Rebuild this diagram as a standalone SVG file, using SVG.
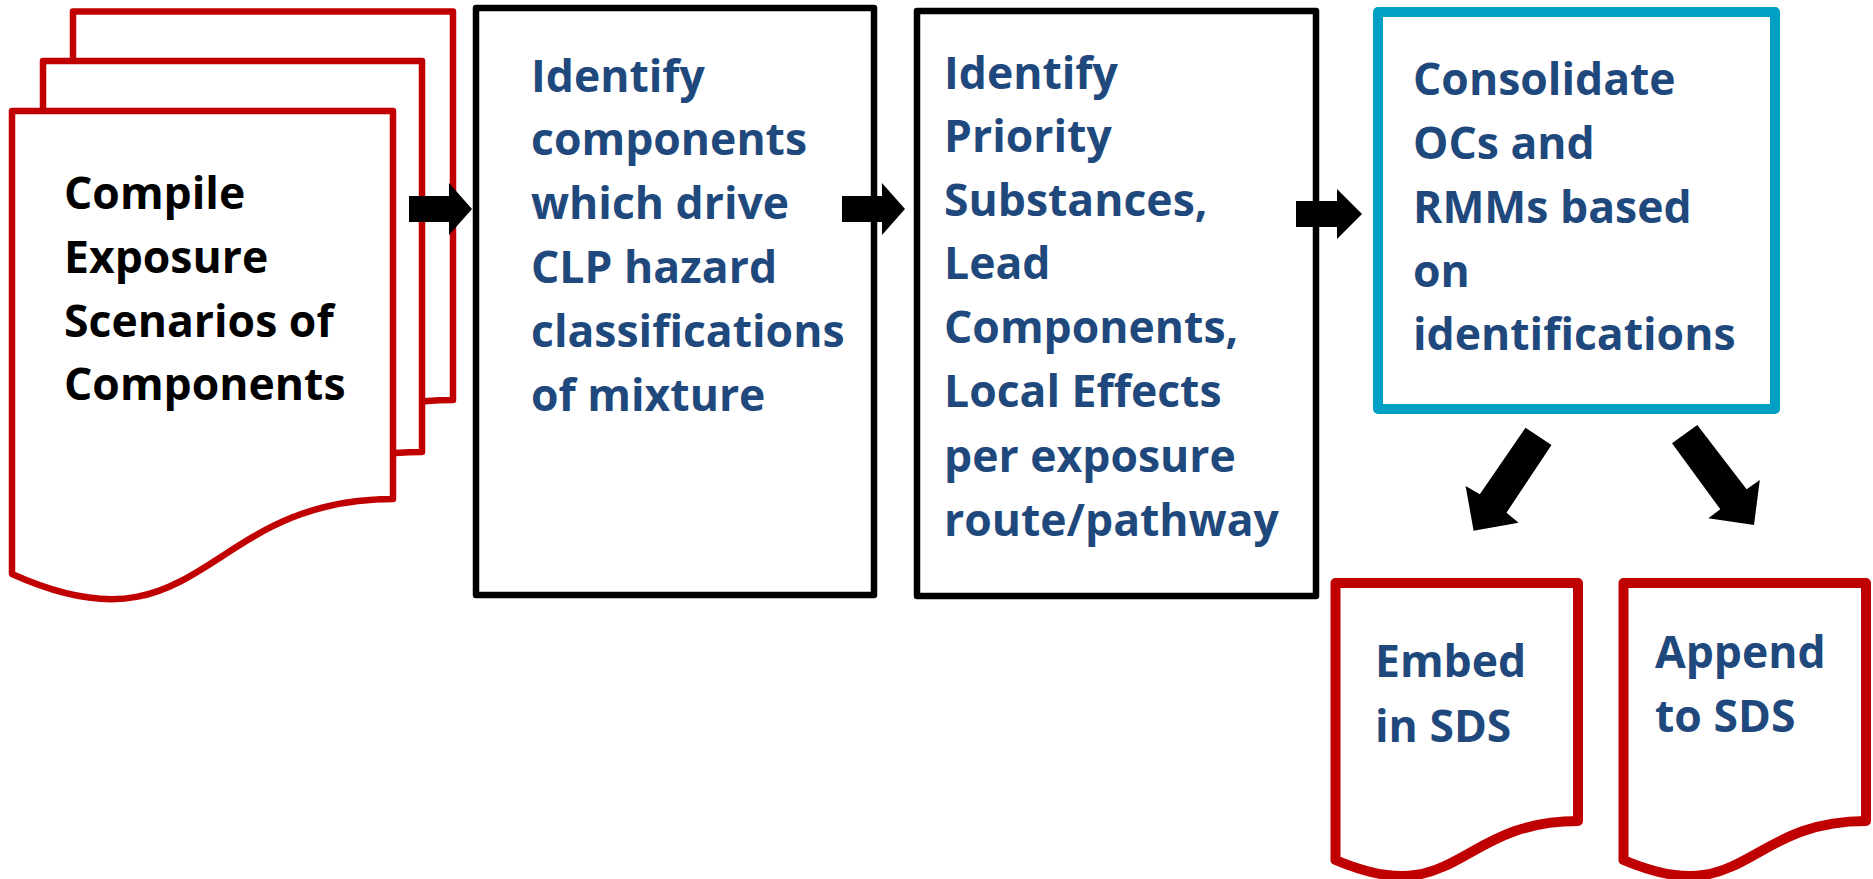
<svg xmlns="http://www.w3.org/2000/svg" width="1873" height="879" viewBox="0 0 1873 879">
<style>
.doc{fill:#fff;stroke:#C00000;stroke-linejoin:round}
.thin{stroke-width:6.5}
.thick{stroke-width:10}
.box{fill:#fff;stroke:#000;stroke-width:6.5;stroke-linejoin:round}
.cyan{fill:#fff;stroke:#00A0C4;stroke-width:10;stroke-linejoin:round}
.t{font-family:"Open Sans","Liberation Sans",sans-serif;font-weight:bold;font-size:44.5px}
.blue{fill:#1F497D}
.black{fill:#000}
.arr{fill:#000;stroke:none}
</style>
<rect width="1873" height="879" fill="#fff"/>
<g id="node-compile">
<path class="doc thin" d="M73,11.5 H453 V400 C263,400 263,548 73,500 Z"/>
<path class="doc thin" d="M43,61 H422 V452 C232,452 232,601 43,517 Z"/>
<path class="doc thin" d="M12,111 H393 V499 C202.5,499 202.5,660 12,574 Z"/>
<text class="t black"><tspan x="64" y="209">Compile</tspan><tspan x="64" y="273">Exposure</tspan><tspan x="64" y="337">Scenarios of</tspan><tspan x="64" y="400">Components</tspan></text>
</g>
<g id="node-identify-components">
<rect class="box" x="476" y="8" width="398" height="587"/>
<text class="t blue"><tspan x="531" y="92">Identify</tspan><tspan x="531" y="155">components</tspan><tspan x="531" y="219">which drive</tspan><tspan x="531" y="283">CLP hazard</tspan><tspan x="531" y="347">classifications</tspan><tspan x="531" y="411">of mixture</tspan></text>
</g>
<g id="node-identify-priority">
<rect class="box" x="917" y="11" width="399" height="585"/>
<text class="t blue"><tspan x="944" y="89">Identify</tspan><tspan x="944" y="152">Priority</tspan><tspan x="944" y="216">Substances,</tspan><tspan x="944" y="279">Lead</tspan><tspan x="944" y="343">Components,</tspan><tspan x="944" y="407">Local Effects</tspan><tspan x="944" y="472">per exposure</tspan><tspan x="944" y="536">route/pathway</tspan></text>
</g>
<g id="node-consolidate">
<rect class="cyan" x="1378" y="12" width="397" height="397"/>
<text class="t blue"><tspan x="1413" y="95">Consolidate</tspan><tspan x="1413" y="159">OCs and</tspan><tspan x="1413" y="223">RMMs based</tspan><tspan x="1413" y="287">on</tspan><tspan x="1413" y="350">identifications</tspan></text>
</g>
<g id="node-embed">
<path class="doc thick" d="M1335.5,583 H1578 V821 C1457,821 1457,912 1335.5,860 Z"/>
<text class="t blue"><tspan x="1375" y="677">Embed</tspan><tspan x="1375" y="742">in SDS</tspan></text>
</g>
<g id="node-append">
<path class="doc thick" d="M1623.5,583 H1866 V821 C1745,821 1745,912 1623.5,860 Z"/>
<text class="t blue"><tspan x="1655" y="668">Append</tspan><tspan x="1655" y="732">to SDS</tspan></text>
</g>
<g id="connectors">
<polygon class="arr" points="409,196 449,196 449,183 472,209 449,235 449,222 409,222"/>
<polygon class="arr" points="842,196 882,196 882,183 905,209 882,235 882,222 842,222"/>
<polygon class="arr" points="1296,201 1337,201 1337,189 1362,214 1337,239 1337,227 1296,227"/>
<polygon class="arr" points="1525.5,427.7 1551.5,445 1506.5,512.7 1518.6,522.7 1473.6,530.7 1465.6,486 1479.8,494.3"/>
<polygon class="arr" points="1697.3,425 1746.6,489.3 1759.8,480 1754,525 1708.3,518.3 1720.3,509.3 1672,443.3"/>
</g>
</svg>
